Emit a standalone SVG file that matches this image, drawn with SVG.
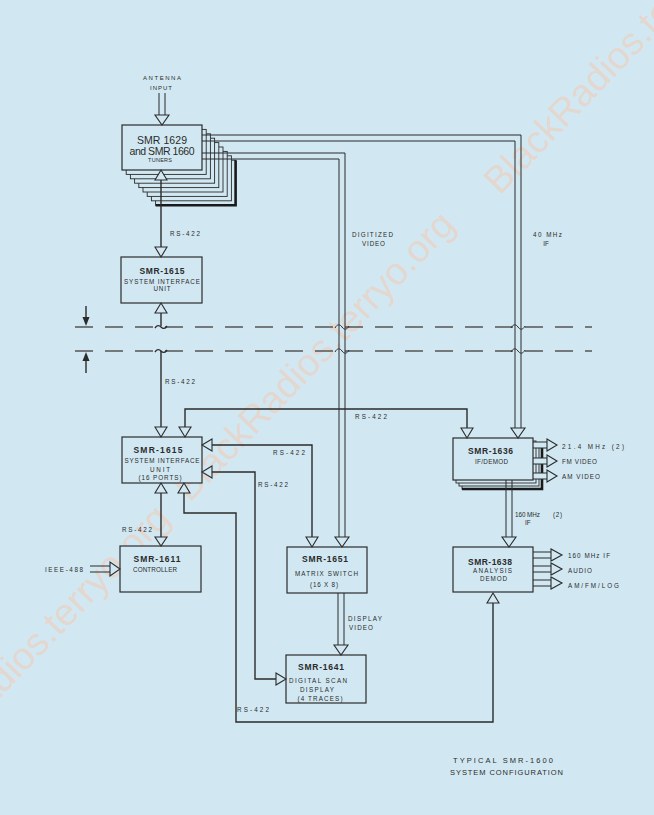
<svg xmlns="http://www.w3.org/2000/svg" width="654" height="815" viewBox="0 0 654 815">
<defs>
<style>
.bg{fill:#d1e8f2}
.bx{fill:#d1e8f2;stroke:#2b2b2b;stroke-width:1.2}
.ly{fill:#d1e8f2;stroke:#2b2b2b;stroke-width:0.9}
.ln{fill:none;stroke:#2b2b2b;stroke-width:1.4}
.dl{fill:none;stroke:#2b2b2b;stroke-width:1}
.ah{fill:#d1e8f2;stroke:#2b2b2b;stroke-width:1.1;stroke-linejoin:miter}
.fh{fill:#2b2b2b}
.thk{fill:none;stroke:#1a1a1a;stroke-width:2.6}
.dash{fill:none;stroke:#555;stroke-width:1.3;stroke-dasharray:18 12}
text{font-family:"Liberation Sans",Arial,sans-serif;fill:#2b2b2b}
.ti{font-size:8.5px;font-weight:bold;text-anchor:middle}
.su{font-size:6.3px;text-anchor:middle}
.lb{font-size:6.3px}
.lc{font-size:6.3px;text-anchor:middle}
.wm{font-size:38px;fill:#f3c8b2;fill-opacity:0.55}
</style>
</defs>
<rect class="bg" x="0" y="0" width="654" height="815"/>

<g id="watermarks">
<text class="wm" x="190" y="503" transform="rotate(-46 190 503)">BlackRadios.terryo.org</text>
<text class="wm" x="500" y="196" transform="rotate(-46 500 196)">BlackRadios.terryo.org</text>
<text class="wm" x="172" y="520" text-anchor="end" transform="rotate(-46 172 520)">BlackRadios.terryo.org</text>
</g>

<g id="boundary">
<path class="dash" d="M75,327 H592"/>
<path class="dash" d="M75,351 H592"/>
<path class="ln" d="M86,306 V318"/>
<polygon class="fh" points="82.5,317 89.5,317 86,326"/>
<path class="ln" d="M86,360 V373"/>
<polygon class="fh" points="82.5,361 89.5,361 86,352"/>
</g>

<g id="tuners">
<rect class="ly" x="155.6" y="160.2" width="80" height="45"/>
<rect class="ly" x="151.4" y="155.8" width="80" height="45"/>
<rect class="ly" x="147.2" y="151.4" width="80" height="45"/>
<rect class="ly" x="143" y="147" width="80" height="45"/>
<rect class="ly" x="138.8" y="142.6" width="80" height="45"/>
<rect class="ly" x="134.6" y="138.2" width="80" height="45"/>
<rect class="ly" x="130.4" y="133.8" width="80" height="45"/>
<rect class="ly" x="126.2" y="129.4" width="80" height="45"/>
<path class="thk" d="M235.6,160.2 V205.2 H155.6"/>
<rect class="bx" x="122" y="125" width="80" height="45"/>
<text x="162" y="144" text-anchor="middle" style="font-size:10.5px" textLength="50">SMR 1629</text>
<text x="162" y="155" text-anchor="middle" style="font-size:10.5px" textLength="65">and SMR 1660</text>
<text class="su" x="160" y="162" style="font-size:5.5px" textLength="24">TUNERS</text>
<text class="lc" x="162" y="80" style="font-size:6px" textLength="38">ANTENNA</text>
<text class="lc" x="161" y="89.5" style="font-size:6px" textLength="22">INPUT</text>
</g>

<g id="siu-upper">
<rect class="bx" x="121" y="257" width="81" height="46"/>
<text class="ti" x="162" y="273.5" textLength="45">SMR-1615</text>
<text class="su" x="162" y="284" textLength="76">SYSTEM INTERFACE</text>
<text class="su" x="162" y="291" textLength="17">UNIT</text>
</g>

<g id="siu-lower">
<rect class="bx" x="122" y="437" width="80" height="46"/>
<text class="ti" x="158" y="453" textLength="49">SMR-1615</text>
<text class="su" x="162" y="463" textLength="75">SYSTEM INTERFACE</text>
<text class="su" x="160" y="471.5" textLength="20">UNIT</text>
<text class="su" x="160" y="480" textLength="43">(16 PORTS)</text>
</g>

<g id="controller">
<rect class="bx" x="120" y="546" width="81" height="46"/>
<text class="ti" x="157" y="562" textLength="47">SMR-1611</text>
<text class="su" x="155" y="572" textLength="44">CONTROLLER</text>
</g>

<g id="matrix-switch">
<rect class="bx" x="287" y="547" width="80" height="46"/>
<text class="ti" x="325" y="562" textLength="46">SMR-1651</text>
<text class="su" x="326.5" y="576" textLength="63">MATRIX SWITCH</text>
<text class="su" x="324" y="587" textLength="28">(16 X 8)</text>
</g>

<g id="if-demod">
<rect class="ly" x="462" y="447" width="80" height="42"/>
<rect class="ly" x="459" y="444" width="80" height="42"/>
<rect class="ly" x="456" y="441" width="80" height="42"/>
<path class="thk" d="M542,447 V489 H462"/>
<rect class="bx" x="453" y="438" width="80" height="42"/>
<text class="ti" x="490.5" y="454" textLength="45">SMR-1636</text>
<text class="su" x="491.5" y="464" textLength="33">IF/DEMOD</text>
</g>

<g id="analysis-demod">
<rect class="bx" x="453" y="547" width="80" height="45"/>
<text class="ti" x="490" y="565" textLength="44">SMR-1638</text>
<text class="su" x="492.5" y="572.5" textLength="39">ANALYSIS</text>
<text class="su" x="493.5" y="580.5" textLength="27">DEMOD</text>
</g>

<g id="display">
<rect class="bx" x="286" y="655" width="80" height="48"/>
<text class="ti" x="321" y="670" textLength="46">SMR-1641</text>
<text class="su" x="318" y="683" textLength="58">DIGITAL SCAN</text>
<text class="su" x="317" y="691.5" textLength="34">DISPLAY</text>
<text class="su" x="320" y="701" textLength="45">(4 TRACES)</text>
</g>

<g id="connectors">
<path class="dl" d="M159,93 V115 M165,93 V115"/>
<polygon class="ah" points="155,115 169,115 162,125"/>
<path class="ln" d="M161,180 V247"/>
<polygon class="ah" points="155,180 167,180 161,170"/>
<polygon class="ah" points="155,247 167,247 161,257"/>
<path class="ln" d="M161,313 V326"/>
<polygon class="ah" points="155,313 167,313 161,303"/>
<path class="ln" d="M155,328 c2,-3 4,-3 6,-1 s4,2 6,-1"/>
<path class="ln" d="M155,352 c2,-3 4,-3 6,-1 s4,2 6,-1"/>
<path class="ln" d="M161,351 V427"/>
<polygon class="ah" points="155,427 167,427 161,437"/>
<path class="dl" d="M202,135 H521 V428 M202,141 H515 V428"/>
<polygon class="ah" points="511,428 525,428 518,438"/>
<path class="dl" d="M202,153 H345 V537 M202,159 H339 V537"/>
<polygon class="ah" points="335,537 349,537 342,547"/>
<path class="dl" d="M335,328 c2,-4 5,-4 7,-1 s5,3 7,-1 M335,352 c2,-4 5,-4 7,-1 s5,3 7,-1"/>
<path class="dl" d="M511,328 c2,-4 5,-4 7,-1 s5,3 7,-1 M511,352 c2,-4 5,-4 7,-1 s5,3 7,-1"/>
<path class="ln" d="M185,427 V409 H467 V428"/>
<polygon class="ah" points="179,427 191,427 185,437"/>
<polygon class="ah" points="461,428 473,428 467,438"/>
<path class="ln" d="M212,445 H312 V537"/>
<polygon class="ah" points="212,439 212,451 202,445"/>
<polygon class="ah" points="306,537 318,537 312,547"/>
<path class="ln" d="M212,472 H255 V679 H276"/>
<polygon class="ah" points="212,466 212,478 202,472"/>
<polygon class="ah" points="276,673 276,685 286,679"/>
<path class="ln" d="M184,493 V513 H236 V722 H493 V603"/>
<polygon class="ah" points="178,493 190,493 184,483"/>
<polygon class="ah" points="487,603 499,603 493,593"/>
<path class="ln" d="M161,493 V537"/>
<polygon class="ah" points="155,493 167,493 161,483"/>
<polygon class="ah" points="155,537 167,537 161,546"/>
<path class="dl" d="M90,566 H110 M90,572 H110"/>
<polygon class="ah" points="110,562 110,576 120,569"/>
<path class="dl" d="M506,480 V537 M512,480 V537"/>
<polygon class="ah" points="502,537 516,537 509,547"/>
<path class="dl" d="M338,593 V645 M344,593 V645"/>
<polygon class="ah" points="334,645 348,645 341,655"/>
<rect class="bg" x="534" y="442" width="13" height="6"/>
<rect class="bg" x="534" y="458" width="13" height="6"/>
<rect class="bg" x="534" y="473" width="13" height="6"/>
<path class="dl" d="M533,442 H547 M533,448 H547 M533,458 H547 M533,464 H547 M533,473 H547 M533,479 H547"/>
<polygon class="ah" points="547,439 547,451 557,445"/>
<polygon class="ah" points="547,455 547,467 557,461"/>
<polygon class="ah" points="547,470 547,482 557,476"/>
<path class="dl" d="M533,552 H551 M533,558 H551 M533,566 H551 M533,572 H551 M533,580 H551 M533,586 H551"/>
<polygon class="ah" points="551,549 551,561 562,555"/>
<polygon class="ah" points="551,563 551,575 562,569"/>
<polygon class="ah" points="551,577 551,589 562,583"/>
</g>

<g id="labels">
<text class="lb" x="170" y="236" textLength="30">RS-422</text>
<text class="lb" x="165" y="384" textLength="30">RS-422</text>
<text class="lb" x="355" y="419" textLength="32">RS-422</text>
<text class="lb" x="273" y="455" textLength="32">RS-422</text>
<text class="lb" x="258" y="487" textLength="30">RS-422</text>
<text class="lb" x="122" y="532" textLength="30">RS-422</text>
<text class="lb" x="237" y="712" textLength="32">RS-422</text>
<text class="lb" x="45" y="572" textLength="38">IEEE-488</text>
<text class="lc" x="372.5" y="237" textLength="41">DIGITIZED</text>
<text class="lc" x="373.5" y="245.5" textLength="23">VIDEO</text>
<text class="lc" x="547.5" y="237" textLength="29">40 MHz</text>
<text class="lc" x="546" y="245.5">IF</text>
<text class="lb" x="562" y="449" textLength="62">21.4 MHz (2)</text>
<text class="lb" x="562" y="464" textLength="35">FM VIDEO</text>
<text class="lb" x="562" y="479" textLength="38">AM VIDEO</text>
<text class="lb" x="568" y="558" textLength="42">160 MHz IF</text>
<text class="lb" x="568" y="573" textLength="24">AUDIO</text>
<text class="lb" x="568" y="588" textLength="51">AM/FM/LOG</text>
<text class="lb" x="515" y="517" textLength="25">160 MHz</text>
<text class="lb" x="525" y="525">IF</text>
<text class="lb" x="553" y="517" textLength="9">(2)</text>
<text class="lb" x="348" y="621" textLength="34">DISPLAY</text>
<text class="lb" x="349" y="629.5" textLength="24">VIDEO</text>
<text x="503" y="763" text-anchor="middle" style="font-size:7.5px" textLength="100">TYPICAL SMR-1600</text>
<text x="506.5" y="775" text-anchor="middle" style="font-size:7.5px" textLength="113">SYSTEM CONFIGURATION</text>
</g>
</svg>
